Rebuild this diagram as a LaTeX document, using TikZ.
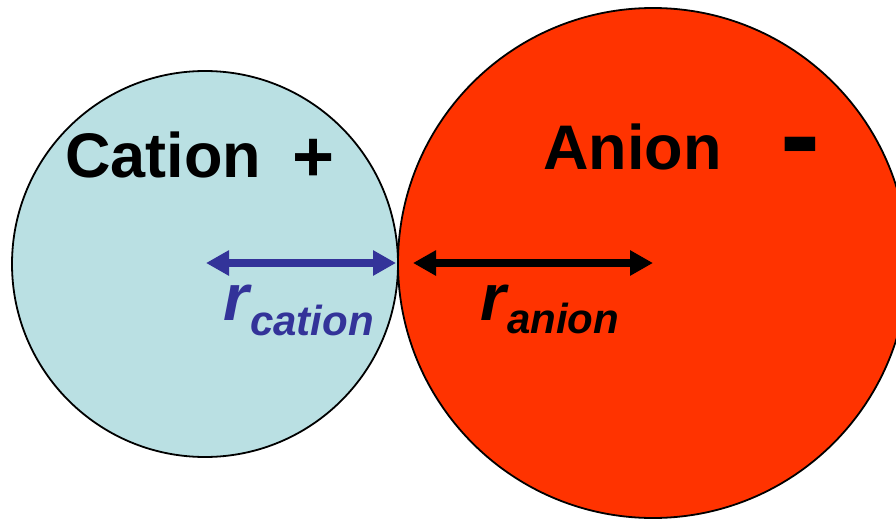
\documentclass[tikz,border=0pt]{standalone}
\usepackage{fontspec}
\setmainfont{Liberation Sans}
\usetikzlibrary{arrows.meta}
\definecolor{cationfill}{RGB}{186,224,227}
\definecolor{anionfill}{RGB}{255,51,0}
\definecolor{cationblue}{RGB}{51,51,153}
\tikzset{
  ion/.style={circle, draw=black, line width=1.8pt, inner sep=0pt},
  bigtext/.style={inner sep=0pt, anchor=base west, font=\bfseries\fontsize{63}{70}\selectfont},
  rtext/.style={inner sep=0pt, anchor=base west, font=\bfseries\itshape\fontsize{66}{70}\selectfont},
  subtext/.style={inner sep=0pt, anchor=base west, font=\bfseries\itshape\fontsize{42}{48}\selectfont},
  radarrow/.style={line width=8pt, {Triangle[length=23pt,width=24pt]}-{Triangle[length=23pt,width=24pt]}},
}
\begin{document}
\begin{tikzpicture}[x=1pt,y=-1pt]
\useasboundingbox (0,0) rectangle (896,519);
\clip (0,0) rectangle (896,519);
\node[ion, fill=cationfill, minimum size=386pt] (cation) at (205,264) {};
\node[ion, fill=anionfill, minimum size=510pt] (anion) at (653,263) {};
\node[bigtext] (ctext) at (65,177) {Cation};
\node[inner sep=0pt, font=\bfseries\fontsize{72}{80}\selectfont] (plus) at (314,160) {+};
\node[bigtext] (atext) at (543,169) {Anion};
\node[inner sep=0pt, anchor=base, font=\bfseries\fontsize{120}{124}\selectfont] (minus) at (800,175) {-};
\coordinate (cl) at (206,263);
\coordinate (cr) at (396,263);
\coordinate (al) at (413,263);
\coordinate (ar) at (653,263);
\draw[radarrow, color=cationblue] (cl) -- (cr);
\draw[radarrow, color=black] (al) -- (ar);
\node[rtext, text=cationblue] (rc) at (223,320) {r};
\node[subtext, text=cationblue] (rcs) at (250,335) {cation};
\node[rtext] (ra) at (480,320) {r};
\node[subtext] (ras) at (507,333) {anion};
\end{tikzpicture}
\end{document}
